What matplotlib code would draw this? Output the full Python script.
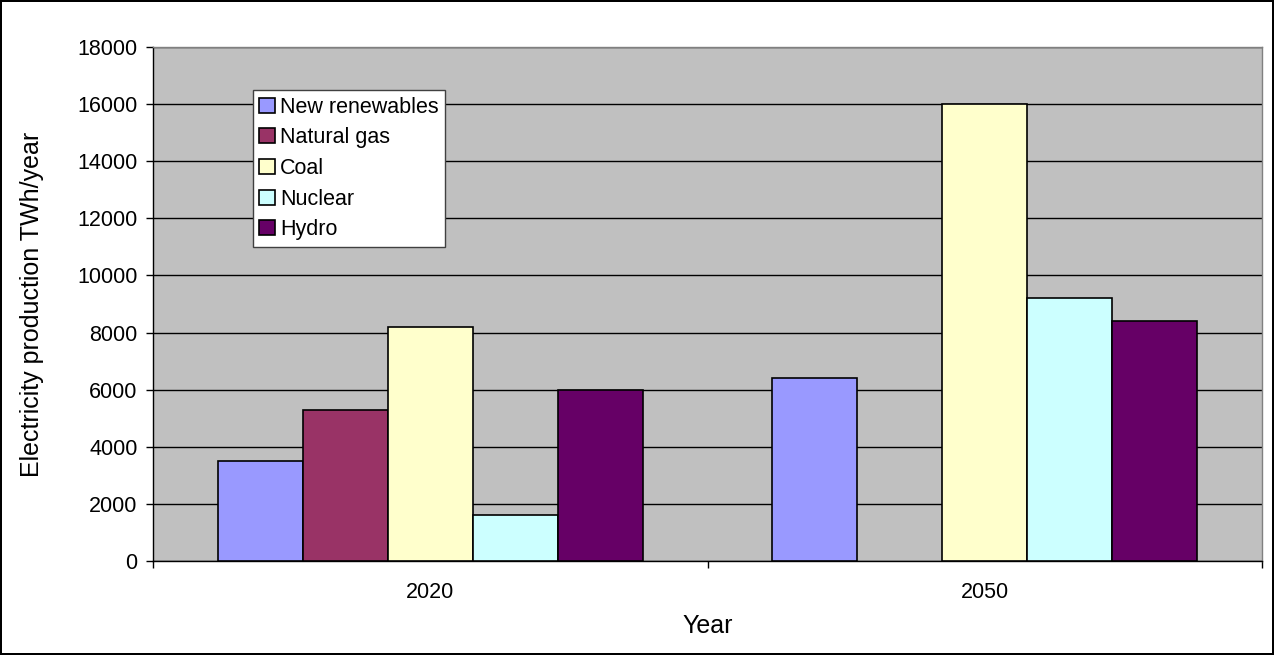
import matplotlib
matplotlib.use("Agg")
import matplotlib.pyplot as plt
import numpy as np

# data
years = ["2020", "2050"]
series = ["New renewables", "Natural gas", "Coal", "Nuclear", "Hydro"]
new_renewables = [3500, 6400]
natural_gas = [5300, 0]
coal = [8200, 16000]
nuclear = [1600, 9200]
hydro = [6000, 8400]
colors = ["#9999FF", "#993366", "#FFFFCC", "#CCFFFF", "#660066"]

plt.rcParams['font.family'] = ['Liberation Sans', 'DejaVu Sans']

fig = plt.figure(figsize=(12.74, 6.55), dpi=100)
fig.patch.set_facecolor("white")
fig.patch.set_edgecolor("black")
fig.patch.set_linewidth(1.5)
ax = fig.add_axes([153 / 1274, 94 / 655, 1109 / 1274, 514 / 655])
ax.set_facecolor("#C0C0C0")

values = [new_renewables, natural_gas, coal, nuclear, hydro]
x = np.arange(len(years))
w = 0.1533
for i, (name, vals) in enumerate(zip(series, values)):
    offs = (i - 2) * w
    heights = [v if v > 0 else np.nan for v in vals]
    ax.bar(x + offs, heights, width=w, color=colors[i], edgecolor="black",
           linewidth=1.2, label=name, zorder=3)

ax.set_xlim(-0.5, 1.5)
ax.set_ylim(0, 18000)
ax.set_yticks(np.arange(0, 18001, 2000))
ax.yaxis.grid(True, color="black", linewidth=1, zorder=1)
ax.set_axisbelow(True)

ax.set_xticks(x)
ax.set_xticklabels(years)
ax.tick_params(axis="x", length=0, pad=15, labelsize=15.5)
ax.set_xticks([-0.5, 0.5, 1.5], minor=True)
ax.tick_params(axis="x", which="minor", length=5, width=1, direction="out")
ax.tick_params(axis="y", length=5, width=1, direction="out", labelsize=15.5, pad=6)

for s in ["left", "bottom"]:
    ax.spines[s].set_color("black")
    ax.spines[s].set_linewidth(1)
for s in ["top", "right"]:
    ax.spines[s].set_color("#808080")
    ax.spines[s].set_linewidth(1)

ax.set_ylabel("Electricity production TWh/year", fontsize=18, labelpad=24)
ax.set_xlabel("Year", fontsize=18, labelpad=8)

leg = ax.legend(loc="upper left", bbox_to_anchor=(0.0902, 0.916), fontsize=15.5,
                frameon=True, fancybox=False, framealpha=1, edgecolor="#404040",
                handlelength=0.7, handleheight=0.7, handletextpad=0.25,
                labelspacing=0.45, borderpad=0.3, borderaxespad=0)
leg.get_frame().set_linewidth(1)

fig.savefig("out.png", dpi=100, facecolor=fig.get_facecolor(), edgecolor=fig.get_edgecolor())
